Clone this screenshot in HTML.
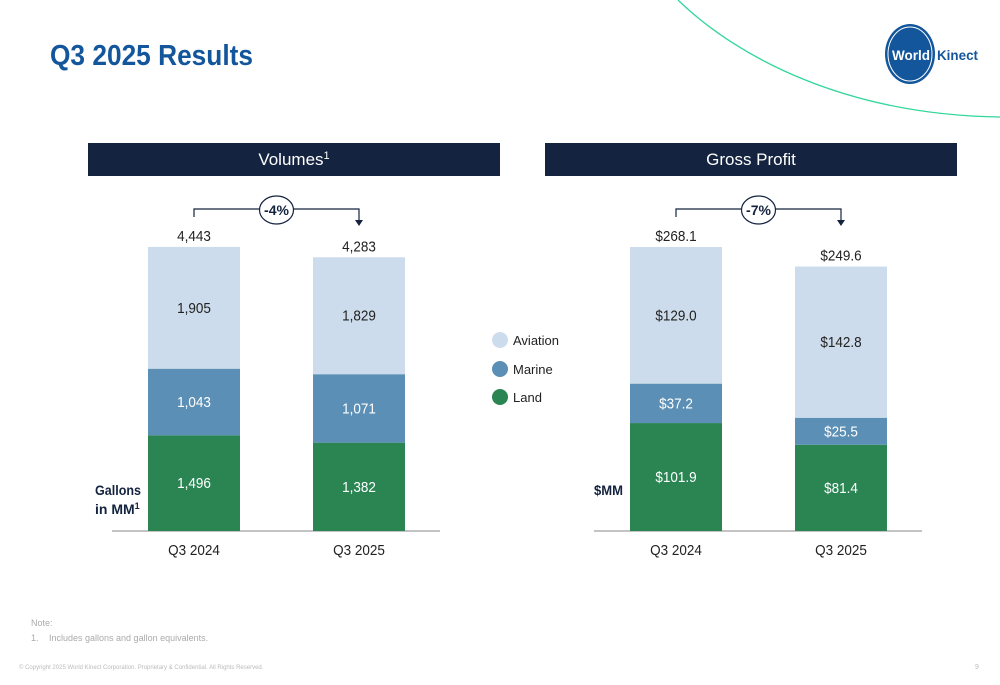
<!DOCTYPE html>
<html><head><meta charset="utf-8"><style>
body{margin:0;width:1000px;height:685px;overflow:hidden;background:#fff;font-family:"Liberation Sans",sans-serif;position:relative}
svg{position:absolute;left:0;top:0}
</style></head><body>
<svg id="s" width="1000" height="685">
<text x="50" y="65" font-size="29" font-weight="bold" fill="#13569b" textLength="203" lengthAdjust="spacingAndGlyphs">Q3 2025 Results</text>
<path d="M678,0 C740,60 850,115 1000,117" fill="none" stroke="#2fd79a" stroke-width="1.3"/>
<g>
<ellipse cx="910" cy="54" rx="25" ry="30" fill="#13569b"/>
<ellipse cx="910" cy="54" rx="22" ry="27" fill="none" stroke="#fff" stroke-width="1"/>
<text x="892" y="60" font-size="14" font-weight="bold" fill="#fff" textLength="38" lengthAdjust="spacingAndGlyphs">World</text>
<text x="937" y="60" font-size="14" font-weight="bold" fill="#13569b" textLength="41" lengthAdjust="spacingAndGlyphs">Kinect</text>
</g>
<rect x="88" y="143" width="412" height="33" fill="#14233f"/>
<text x="294" y="165" font-size="17" fill="#fff" text-anchor="middle">Volumes<tspan font-size="11" dy="-6">1</tspan></text>
<rect x="545" y="143" width="412" height="33" fill="#14233f"/>
<text x="751" y="165" font-size="17" fill="#fff" text-anchor="middle">Gross Profit</text>
<g>
<circle cx="500" cy="340" r="8" fill="#cddcec"/><text x="513" y="345" font-size="13" fill="#222">Aviation</text>
<circle cx="500" cy="369" r="8" fill="#5b8fb5"/><text x="513" y="374" font-size="13" fill="#222">Marine</text>
<circle cx="500" cy="397" r="8" fill="#2a8553"/><text x="513" y="402" font-size="13" fill="#222">Land</text>
</g>
<text x="95" y="495" font-size="14" font-weight="bold" fill="#14233f" textLength="46" lengthAdjust="spacingAndGlyphs">Gallons</text>
<text x="95" y="514" font-size="14" font-weight="bold" fill="#14233f">in MM<tspan font-size="9" dy="-5">1</tspan></text>
<text x="594" y="495" font-size="14" font-weight="bold" fill="#14233f" textLength="29" lengthAdjust="spacingAndGlyphs">$MM</text>
<text x="31" y="626" font-size="9" fill="#aaa">Note:</text>
<text x="31" y="641" font-size="9" fill="#aaa">1.<tspan x="49">Includes gallons and gallon equivalents.</tspan></text>
<text x="19" y="669" font-size="6" fill="#bbb">© Copyright 2025 World Kinect Corporation. Proprietary &amp; Confidential. All Rights Reserved.</text>
<text x="975" y="669" font-size="7" fill="#bbb">9</text>
</svg>
<script>
const categories = ["Q3 2024","Q3 2025"];
const series = ["Land","Marine","Aviation"];
const volLand = [1496,1382];
const volMarine = [1043,1071];
const volAviation = [1905,1829];
const volTotals = ["4,443","4,283"];
const volLabels = [["1,496","1,043","1,905"],["1,382","1,071","1,829"]];
const gpLand = [101.9,81.4];
const gpMarine = [37.2,25.5];
const gpAviation = [129.0,142.8];
const gpTotals = ["$268.1","$249.6"];
const gpLabels = [["$101.9","$37.2","$129.0"],["$81.4","$25.5","$142.8"]];
const changes = ["-4%","-7%"];
const NS="http://www.w3.org/2000/svg";
const svg=document.getElementById('s');
const colors=["#2a8553","#5b8fb5","#cddcec"];
const txtColors=["#fff","#fff","#222"];
function mk(tag,attrs,parent){const e=document.createElementNS(NS,tag);for(const k in attrs)e.setAttribute(k,attrs[k]);(parent||svg).appendChild(e);return e;}
function narrow(t,x){t.setAttribute('transform',`translate(${x},0) scale(0.9,1) translate(${-x},0)`);}
function chart(x0,axisL,axisR,land,marine,avi,totals,labels,change,max,prefix){
  const base=531, h=284;
  const y=v=>h*v/max;
  const g=mk('g',{});
  
  
  const ax=mk('line',{x1:axisL,x2:axisR,y1:base,y2:base,stroke:'#888','stroke-width':1},g);
  
  
  categories.forEach((c,i)=>{
    const bx=x0+i*165, vals=[land[i],marine[i],avi[i]];
    let cur=base;
    vals.forEach((v,j)=>{
      const hh=y(v);
      const r=mk('rect',{x:bx,y:cur-hh,width:92,height:hh,fill:colors[j]},g);
      
      
      const t=mk('text',{x:bx+46,y:cur-hh/2+5,'font-size':15,fill:txtColors[j],'text-anchor':'middle'},g);
      t.textContent=labels[i][j];
      narrow(t,bx+46);
      
      
      cur-=hh;
    });
    const tt=mk('text',{x:bx+46,y:cur-6,'font-size':15,fill:'#222','text-anchor':'middle'},g);
    tt.textContent=totals[i];
    narrow(tt,bx+46);
    
    
    const cl=mk('text',{x:bx+46,y:555,'font-size':15,fill:'#222','text-anchor':'middle'},g);
    cl.textContent=c;
    narrow(cl,bx+46);
    
    
  });
  const xa=x0+46, xb=x0+165+46, ty=209, mid=(xa+xb)/2;
  const p=mk('path',{d:`M${xa},${ty+8}V${ty}H${xb}V${ty+12}`,fill:'none',stroke:'#14233f','stroke-width':1.2},g);
  
  
  mk('path',{d:`M${xb-4},${ty+11}L${xb+4},${ty+11}L${xb},${ty+17}Z`,fill:'#14233f'},g);
  mk('ellipse',{cx:mid,cy:ty+1,rx:17,ry:14,fill:'#fff',stroke:'#14233f','stroke-width':1.2},g);
  const ct=mk('text',{x:mid,y:ty+6,'font-size':14,'font-weight':'bold',fill:'#14233f','text-anchor':'middle'},g);
  ct.textContent=change;
  
  
}
chart(148,112,440,volLand,volMarine,volAviation,volTotals,volLabels,changes[0],4443,'volumes');
chart(630,594,922,gpLand,gpMarine,gpAviation,gpTotals,gpLabels,changes[1],268.1,'gross-profit');
</script>
</body></html>
